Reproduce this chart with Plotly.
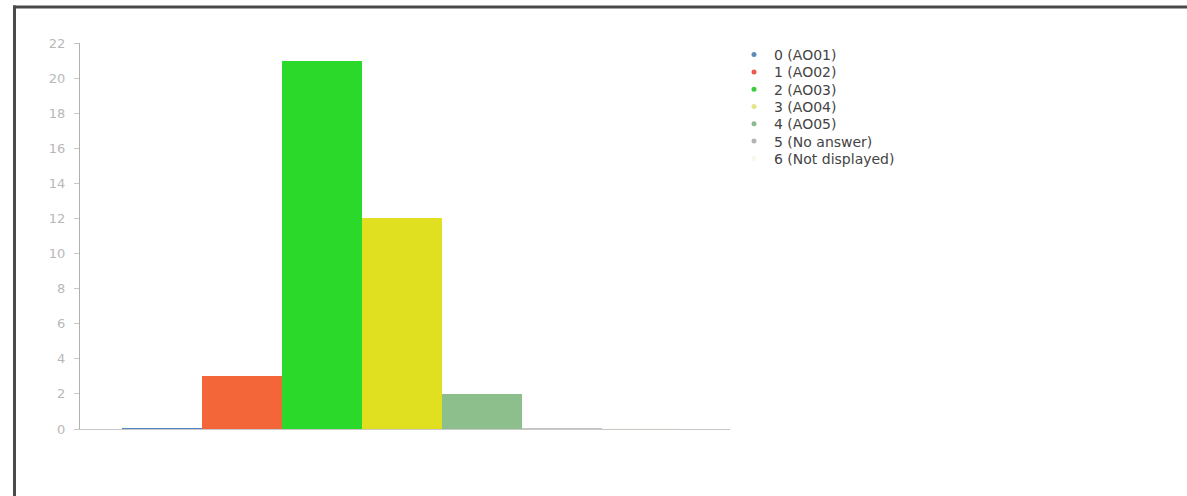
import plotly.graph_objects as go

# ---- data ----
categories = ["0 (AO01)", "1 (AO02)", "2 (AO03)", "3 (AO04)", "4 (AO05)",
              "5 (No answer)", "6 (Not displayed)"]
counts = [0, 3, 21, 12, 2, 0, 0]
bar_colors = ["#4a86c8", "#f2663a", "#2bd92b", "#e0e020", "#8dbf8d", "#c4c4c4", "#fffaf3"]
legend_colors = ["#5b8bb8", "#ee5a4a", "#3ccc3c", "#e4e48a", "#8fba8f", "#b4b4b4", "#fbf6ee"]
y_ticks = list(range(0, 23, 2))

W, H = 1187, 496
# plot area in pixels
PL, PR, PT, PB = 80, 730, 43, 429
Y_MAX = 22
px_per_unit = (PB - PT) / Y_MAX
min_visible = 1.0 / px_per_unit  # library draws zero-valued bars as a 1px sliver

# legend layout (pixels)
LEG_LEFT, LEG_FIRST, LEG_STEP = 734, 55, 17.3

font = "DejaVu Sans, Verdana, sans-serif"

fig = go.Figure()
for i, (cat, v, c) in enumerate(zip(categories, counts, bar_colors)):
    fig.add_trace(go.Bar(
        x=[i], y=[max(v, min_visible)], width=1.0,
        marker=dict(color=c, line=dict(width=0)),
        customdata=[v], hovertemplate=cat + ": %{customdata}<extra></extra>",
        name=cat, showlegend=False,
    ))

legend_layouts = {}
for i, (cat, c) in enumerate(zip(categories, legend_colors)):
    key = "legend" if i == 0 else f"legend{i + 1}"
    fig.add_trace(go.Scatter(
        x=[None], y=[None], mode="markers", name=cat, legend=key,
        marker=dict(color=c, size=5, symbol="circle"),
    ))
    legend_layouts[key] = dict(
        x=LEG_LEFT / W, y=(H - (LEG_FIRST + i * LEG_STEP)) / H,
        xanchor="left", yanchor="middle",
        font=dict(size=14, color="#444", family=font),
        bgcolor="rgba(0,0,0,0)", itemwidth=30, borderwidth=0,
    )

fig.update_layout(
    width=W, height=H,
    margin=dict(l=0, r=0, t=0, b=0, autoexpand=False),
    paper_bgcolor="white", plot_bgcolor="white",
    barmode="overlay", bargap=0,
    font=dict(family=font, color="#444"),
    xaxis=dict(
        domain=[PL / W, PR / W],
        range=[-1.02, 7.1], automargin=False,
        showticklabels=False, showgrid=False, zeroline=False,
        showline=True, linecolor="#c8c8c8", linewidth=1,
        ticks="", layer="below traces", fixedrange=True,
    ),
    yaxis=dict(
        domain=[(H - PB) / H, (H - PT) / H],
        range=[0, Y_MAX], automargin=False,
        tickvals=y_ticks, ticktext=[str(t) for t in y_ticks],
        tickfont=dict(size=13, color="#b8b8b8", family=font),
        ticks="outside", ticklen=5, tickcolor="#c8c8c8",
        ticklabelstandoff=6,
        showgrid=False, zeroline=False,
        showline=True, linecolor="#b0b0b0", linewidth=1,
        layer="below traces", fixedrange=True,
    ),
    shapes=[
        dict(type="line", xref="paper", yref="paper",
             x0=14.5 / W, x1=14.5 / W, y0=0, y1=(H - 5.5) / H,
             line=dict(color="#4a4a4a", width=3)),
        dict(type="line", xref="paper", yref="paper",
             x0=13 / W, x1=1, y0=(H - 7) / H, y1=(H - 7) / H,
             line=dict(color="#4a4a4a", width=3)),
    ],
    **legend_layouts,
)

fig.write_html(
    "out.html",
    config={"displayModeBar": False},
    post_script="document.body.style.margin='0';document.body.style.overflow='hidden';",
)
